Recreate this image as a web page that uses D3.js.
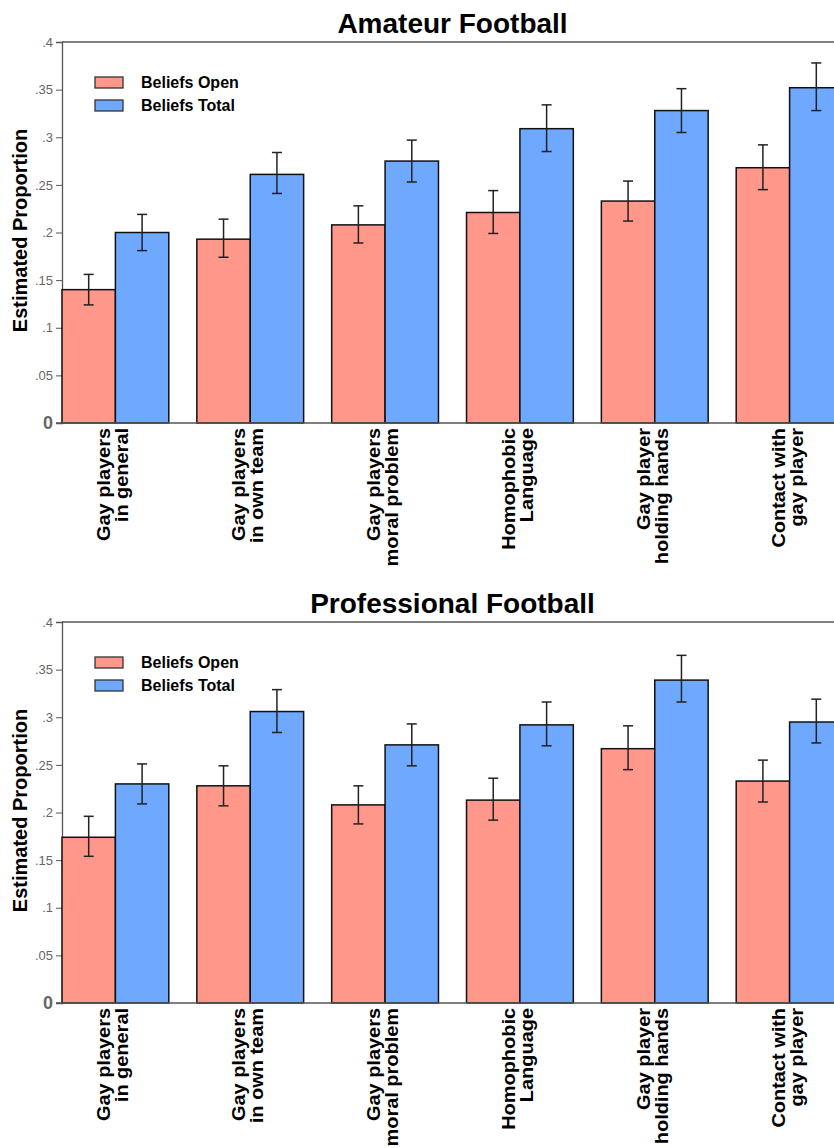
<!DOCTYPE html>
<html>
<head>
<meta charset="utf-8">
<script src="https://cdn.jsdelivr.net/npm/d3@7"></script>
<style>
  html, body { margin: 0; padding: 0; background: #fff; }
  svg { display: block; font-family: "Liberation Sans", Arial, sans-serif; }
</style>
</head>
<body>
<script>
// Categories (two-line labels)
const categories = [
  ["Gay players", "in general"],
  ["Gay players", "in own team"],
  ["Gay players", "moral problem"],
  ["Homophobic", "Language"],
  ["Gay player", "holding hands"],
  ["Contact with", "gay player"]
];
const seriesNames = ["Beliefs Open", "Beliefs Total"];
const yTicks = [0, 0.05, 0.1, 0.15, 0.2, 0.25, 0.3, 0.35, 0.4];

// Amateur football
const amateurOpen    = [0.140, 0.193, 0.208, 0.221, 0.233, 0.268];
const amateurOpenLo  = [0.124, 0.174, 0.189, 0.199, 0.212, 0.245];
const amateurOpenHi  = [0.156, 0.214, 0.228, 0.244, 0.254, 0.292];
const amateurTotal   = [0.200, 0.261, 0.275, 0.309, 0.328, 0.352];
const amateurTotalLo = [0.181, 0.241, 0.253, 0.285, 0.305, 0.328];
const amateurTotalHi = [0.219, 0.284, 0.297, 0.334, 0.351, 0.378];

// Professional football
const proOpen    = [0.174, 0.228, 0.208, 0.213, 0.267, 0.233];
const proOpenLo  = [0.154, 0.207, 0.188, 0.192, 0.245, 0.211];
const proOpenHi  = [0.196, 0.249, 0.228, 0.236, 0.291, 0.255];
const proTotal   = [0.230, 0.306, 0.271, 0.292, 0.339, 0.295];
const proTotalLo = [0.209, 0.284, 0.249, 0.270, 0.316, 0.273];
const proTotalHi = [0.251, 0.329, 0.293, 0.316, 0.365, 0.319];

const panels = [
  { title: "Amateur Football", top: 0,
    series: [
      { v: amateurOpen, lo: amateurOpenLo, hi: amateurOpenHi },
      { v: amateurTotal, lo: amateurTotalLo, hi: amateurTotalHi }
    ] },
  { title: "Professional Football", top: 580,
    series: [
      { v: proOpen, lo: proOpenLo, hi: proOpenHi },
      { v: proTotal, lo: proTotalLo, hi: proTotalHi }
    ] }
];

const colors = ["#FF978A", "#6FA8FF"];
const W = 834, H = 1148;
const plotLeft = 62, plotRight = 843, plotTop = 42, plotBottom = 423;
const axisColor = "#555";

const svg = d3.select("body").append("svg").attr("width", W).attr("height", H);

const x0 = d3.scaleBand()
  .domain(d3.range(categories.length))
  .range([plotLeft, plotRight])
  .paddingInner(0.208)
  .paddingOuter(0);
const x1 = d3.scaleBand().domain([0, 1]).range([0, x0.bandwidth()]);
const y = d3.scaleLinear().domain([0, 0.4]).range([plotBottom, plotTop]);

const fmt = d => d === 0 ? "0" : d3.format(".2~f")(d).replace(/^0/, "");

panels.forEach(p => {
  const g = svg.append("g").attr("transform", `translate(0,${p.top})`);

  // Title
  g.append("text")
    .attr("x", (plotLeft + plotRight) / 2).attr("y", 33)
    .attr("text-anchor", "middle")
    .attr("font-size", 28).attr("font-weight", "bold").attr("fill", "#000")
    .text(p.title);

  // Y axis
  const yAxis = g.append("g")
    .attr("transform", `translate(${plotLeft},0)`)
    .call(d3.axisLeft(y).tickValues(yTicks).tickFormat(fmt).tickSize(6).tickPadding(3));
  yAxis.select(".domain").attr("stroke", axisColor).attr("stroke-width", 1.3);
  yAxis.selectAll(".tick line").attr("stroke", axisColor).attr("stroke-width", 1);
  yAxis.selectAll(".tick text")
    .attr("fill", "#666")
    .attr("font-family", "'Liberation Sans', Arial, sans-serif")
    .attr("font-size", d => d === 0 ? 18 : 13)
    .attr("font-weight", d => d === 0 ? "bold" : "normal");

  // Frame: top line
  g.append("line")
    .attr("x1", plotLeft).attr("x2", plotRight)
    .attr("y1", plotTop).attr("y2", plotTop)
    .attr("stroke", axisColor).attr("stroke-width", 1.3);

  // Y title
  g.append("text")
    .attr("transform", `translate(27,${(plotTop + plotBottom) / 2 - 2}) rotate(-90)`)
    .attr("text-anchor", "middle")
    .attr("font-size", 20).attr("font-weight", "bold").attr("fill", "#000")
    .text("Estimated Proportion");

  // Bars
  p.series.forEach((s, si) => {
    g.append("g").selectAll("rect")
      .data(s.v)
      .join("rect")
      .attr("x", (d, i) => x0(i) + x1(si))
      .attr("y", d => y(d))
      .attr("width", x1.bandwidth())
      .attr("height", d => y(0) - y(d))
      .attr("fill", colors[si])
      .attr("stroke", "#111")
      .attr("stroke-width", 1.5);
  });

  // Bottom axis line
  g.append("line")
    .attr("x1", plotLeft - 6).attr("x2", plotRight)
    .attr("y1", plotBottom).attr("y2", plotBottom)
    .attr("stroke", axisColor).attr("stroke-width", 1.3);

  // Error bars
  p.series.forEach((s, si) => {
    const eg = g.append("g").attr("stroke", "#222").attr("stroke-width", 1.5);
    s.v.forEach((d, i) => {
      const cx = x0(i) + x1(si) + x1.bandwidth() / 2;
      eg.append("line").attr("x1", cx).attr("x2", cx).attr("y1", y(s.lo[i])).attr("y2", y(s.hi[i]));
      eg.append("line").attr("x1", cx - 5).attr("x2", cx + 5).attr("y1", y(s.lo[i])).attr("y2", y(s.lo[i]));
      eg.append("line").attr("x1", cx - 5).attr("x2", cx + 5).attr("y1", y(s.hi[i])).attr("y2", y(s.hi[i]));
    });
  });

  // Legend
  const lg = g.append("g");
  seriesNames.forEach((name, si) => {
    const ly = 77 + si * 23;
    lg.append("rect")
      .attr("x", 95).attr("y", ly).attr("width", 28).attr("height", 11)
      .attr("fill", colors[si]).attr("stroke", "#333").attr("stroke-width", 1.3);
    lg.append("text")
      .attr("x", 141).attr("y", ly + 11)
      .attr("font-size", 16).attr("font-weight", "bold").attr("fill", "#000")
      .text(name);
  });

  // Category labels (rotated, two lines, slightly condensed)
  categories.forEach((lines, i) => {
    const cx = x0(i) + x0.bandwidth() / 2;
    lines.forEach((t, li) => {
      g.append("text")
        .attr("transform", `translate(${cx - 5 + li * 18},${plotBottom + 5}) rotate(-90) scale(1.05,0.93)`)
        .attr("text-anchor", "end")
        .attr("font-size", 19).attr("font-weight", "bold").attr("fill", "#000")
        .text(t);
    });
  });
});
</script>
</body>
</html>
